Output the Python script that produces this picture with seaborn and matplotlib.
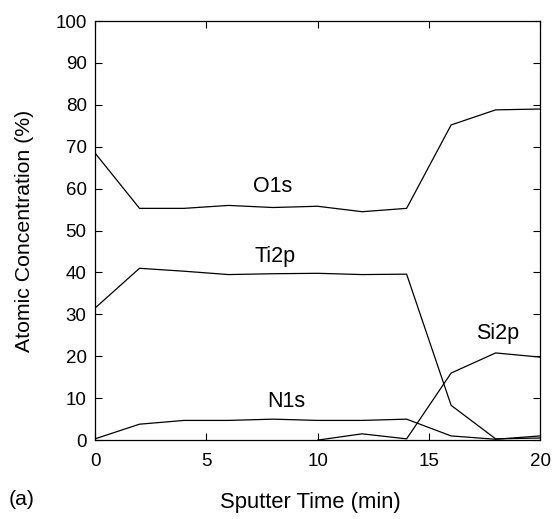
import numpy as np
import pandas as pd
import matplotlib
matplotlib.use('Agg')
import matplotlib.pyplot as plt
import seaborn as sns

# sputter time (min) and atomic concentrations (%)
time = [0, 2, 4, 6, 8, 10, 12, 14, 16, 18, 20]
o1s = [68.5, 55.3, 55.3, 56.0, 55.5, 55.8, 54.5, 55.3, 75.2, 78.8, 79.0]
ti2p = [31.5, 41.0, 40.3, 39.5, 39.7, 39.8, 39.5, 39.6, 8.3, 0.3, 0.5]
n1s = [0.3, 3.8, 4.7, 4.7, 5.0, 4.7, 4.7, 5.0, 1.0, 0.2, 1.0]
si2p_time = [10, 12, 14, 16, 18, 20]
si2p = [0.0, 1.5, 0.3, 16.0, 20.8, 19.8]

sns.set_style('ticks')
plt.rcParams['font.family'] = ['Liberation Sans', 'DejaVu Sans']
plt.rcParams.update({'text.color': 'black', 'axes.labelcolor': 'black',
                     'xtick.color': 'black', 'ytick.color': 'black',
                     'axes.edgecolor': 'black'})

fig = plt.figure(figsize=(5.54, 5.19), dpi=100)
ax = fig.add_axes([0.1715, 0.152, 0.8035, 0.8075])

df = pd.DataFrame({'t': time, 'O1s': o1s, 'Ti2p': ti2p, 'N1s': n1s})
for col in ['O1s', 'Ti2p', 'N1s']:
    sns.lineplot(data=df, x='t', y=col, ax=ax, color='black', lw=0.9)
sns.lineplot(x=si2p_time, y=si2p, ax=ax, color='black', lw=0.9)

# curve labels
ax.text(8.0, 60.4, 'O1s', fontsize=15.5, ha='center', va='center')
ax.text(8.1, 43.7, 'Ti2p', fontsize=15.5, ha='center', va='center')
ax.text(8.6, 9.1, 'N1s', fontsize=15.5, ha='center', va='center')
ax.text(18.1, 25.5, 'Si2p', fontsize=15.5, ha='center', va='center')

ax.set_xlim(0, 20)
ax.set_ylim(0, 100)
ax.set_xticks([0, 5, 10, 15, 20])
ax.set_yticks(range(0, 101, 10))
ax.tick_params(direction='in', top=True, right=True, labelsize=13.5,
               length=5, width=0.8, pad=6)
ax.tick_params(axis='x', pad=9)
for s in ax.spines.values():
    s.set_linewidth(0.9)

ax.set_xlabel('Sputter Time (min)', fontsize=15.8)
ax.xaxis.set_label_coords(0.483, -0.124)
ax.set_ylabel('Atomic Concentration (%)', fontsize=15.3, labelpad=15)
fig.text(0.015, 0.037, '(a)', fontsize=15.3, va='center')

plt.savefig('out.png', dpi=100)
